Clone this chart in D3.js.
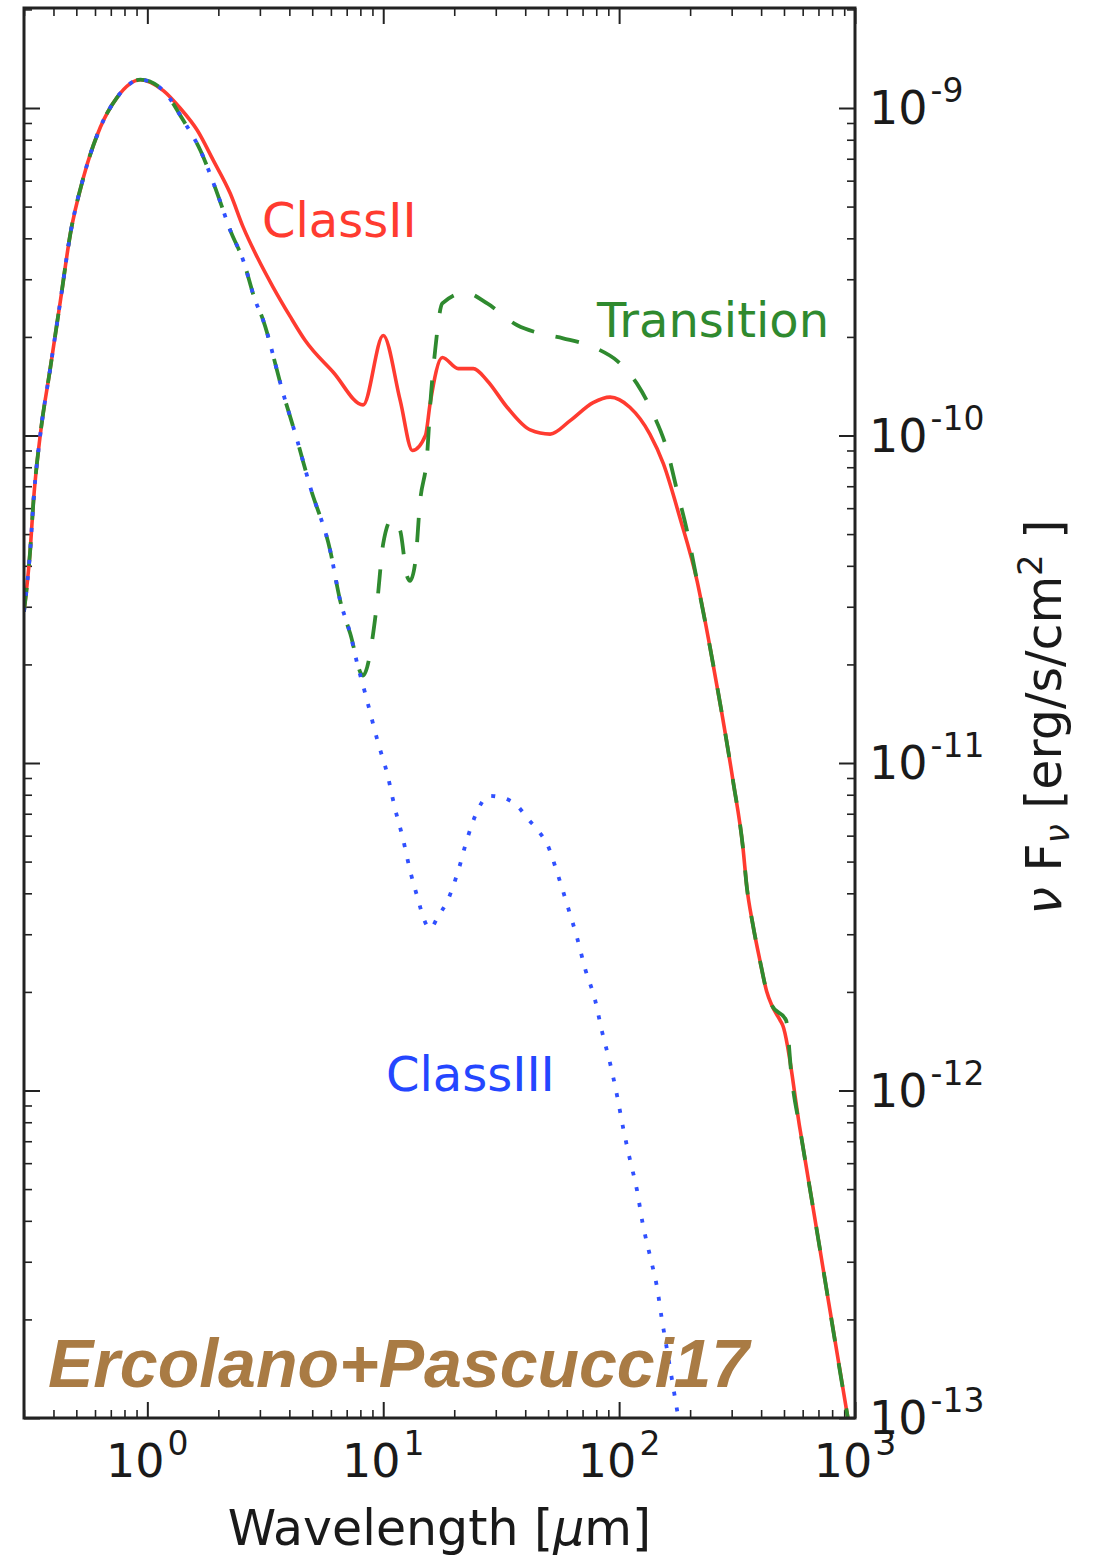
<!DOCTYPE html>
<html>
<head>
<meta charset="utf-8">
<script src="https://cdn.jsdelivr.net/npm/d3@7"></script>
<style>
  html, body { margin: 0; padding: 0; background: #fff; }
  svg { display: block; }
  text { font-family: "DejaVu Sans", sans-serif; }
</style>
</head>
<body>
<svg id="chart" width="1093" height="1562"></svg>
<script>
// ---------------- DATA (wavelength in micron, nu F_nu in erg/s/cm^2) ----------------
const classII = [
  [0.30, 2.9e-11], [0.319, 4.5e-11], [0.329, 6.3e-11], [0.352, 1.01e-10], [0.388, 1.61e-10],
  [0.428, 2.58e-10], [0.472, 4.14e-10], [0.536, 6.14e-10], [0.632, 8.73e-10], [0.746, 1.08e-9],
  [0.934, 1.22e-9], [1.169, 1.13e-9], [1.376, 1.0e-9], [1.628, 8.55e-10], [1.904, 6.92e-10],
  [2.247, 5.48e-10], [2.551, 4.32e-10], [2.925, 3.50e-10], [3.42, 2.83e-10], [4.03, 2.31e-10],
  [4.67, 1.95e-10], [6.14, 1.56e-10], [8.22, 1.24e-10],
  [10.0, 2.02e-10], [11.8, 1.28e-10], [13.3, 9.0e-11], [15.1, 1.0e-10], [15.8, 1.25e-10],
  [17.8, 1.73e-10], [20.8, 1.60e-10], [24.1, 1.60e-10], [27.6, 1.47e-10], [33.5, 1.22e-10],
  [42.0, 1.04e-10], [51.0, 1.01e-10], [62.0, 1.11e-10], [77.6, 1.26e-10], [91.6, 1.31e-10],
  [111, 1.22e-10], [135, 1.01e-10], [154, 8.2e-11], [181, 5.61e-11], [214, 3.60e-11],
  [243, 2.25e-11], [273, 1.41e-11], [304, 8.83e-12], [335, 5.51e-12], [348, 4.17e-12],
  [369, 3.21e-12], [396, 2.48e-12], [422, 2.01e-12], [444, 1.82e-12], [481, 1.64e-12],
  [494, 1.58e-12], [585, 7.6e-13], [700, 3.49e-13], [922, 1.05e-13], [1000, 7.5e-14]
];

const transition = [
  [0.30, 2.9e-11], [0.319, 4.5e-11], [0.329, 6.3e-11], [0.352, 1.01e-10], [0.388, 1.61e-10],
  [0.428, 2.58e-10], [0.472, 4.14e-10], [0.536, 6.14e-10], [0.632, 8.73e-10], [0.746, 1.08e-9],
  [0.934, 1.22e-9], [1.169, 1.13e-9], [1.42, 9.17e-10], [1.677, 7.43e-10], [1.98, 5.48e-10],
  [2.247, 4.23e-10], [2.551, 3.42e-10], [2.87, 2.58e-10], [3.07, 2.29e-10], [3.77, 1.34e-10],
  [4.32, 9.66e-11], [4.91, 6.94e-11],
  [5.96, 4.45e-11], [6.57, 3.13e-11], [7.25, 2.48e-11], [8.2, 1.85e-11], [9.44, 3.13e-11],
  [10.0, 4.68e-11], [10.9, 5.57e-11], [11.8, 5.12e-11], [12.6, 3.73e-11], [13.0, 3.60e-11],
  [13.7, 4.15e-11], [14.3, 6.19e-11], [15.4, 9.0e-11], [15.8, 1.22e-10], [16.6, 1.82e-10],
  [17.8, 2.53e-10], [22.3, 2.73e-10], [27.6, 2.53e-10], [37.0, 2.17e-10], [46.2, 2.05e-10],
  [57.9, 1.98e-10], [80.7, 1.84e-10], [98.1, 1.69e-10], [119, 1.44e-10], [139, 1.17e-10],
  [160, 9.0e-11], [176, 6.79e-11], [194, 5.12e-11], [214, 3.60e-11], [243, 2.25e-11],
  [273, 1.41e-11], [304, 8.83e-12], [335, 5.51e-12], [348, 4.17e-12], [369, 3.21e-12],
  [396, 2.48e-12], [422, 2.01e-12], [444, 1.82e-12], [510, 1.64e-12], [540, 1.08e-12],
  [585, 7.6e-13], [700, 3.49e-13], [922, 1.05e-13], [1000, 7.5e-14]
];

const classIII = [
  [0.30, 2.9e-11], [0.319, 4.5e-11], [0.329, 6.3e-11], [0.352, 1.01e-10], [0.388, 1.61e-10],
  [0.428, 2.58e-10], [0.472, 4.14e-10], [0.536, 6.14e-10], [0.632, 8.73e-10], [0.746, 1.08e-9],
  [0.934, 1.22e-9], [1.169, 1.13e-9], [1.42, 9.17e-10], [1.677, 7.43e-10], [1.98, 5.48e-10],
  [2.247, 4.23e-10], [2.551, 3.42e-10], [2.87, 2.58e-10], [3.07, 2.29e-10], [3.77, 1.34e-10],
  [4.32, 9.66e-11], [4.91, 6.94e-11],
  [5.96, 4.45e-11], [6.57, 3.13e-11], [7.25, 2.48e-11], [7.76, 2.01e-11], [8.39, 1.63e-11],
  [9.52, 1.15e-11], [10.4, 9.27e-12], [11.2, 7.30e-12], [12.1, 5.91e-12], [13.0, 4.69e-12],
  [14.1, 3.80e-12], [14.8, 3.37e-12], [15.8, 3.12e-12], [17.1, 3.41e-12], [18.7, 3.79e-12],
  [20.8, 4.69e-12], [22.7, 5.87e-12], [25.3, 7.24e-12], [27.9, 7.94e-12], [32.2, 7.83e-12],
  [37.0, 7.40e-12], [41.1, 6.75e-12], [45.4, 6.21e-12], [49.5, 5.66e-12], [55.2, 4.52e-12],
  [60.8, 3.61e-12], [66.4, 2.92e-12], [71.8, 2.35e-12], [79.1, 1.89e-12], [84.7, 1.51e-12],
  [91.6, 1.21e-12], [98.1, 9.62e-13], [104, 7.69e-13], [111, 6.18e-13], [119, 4.97e-13],
  [126, 3.91e-13], [135, 3.14e-13], [145, 2.49e-13], [152, 1.99e-13], [160, 1.60e-13],
  [173, 1.14e-13], [181, 9.4e-14]
];

const xDomain = [0.3, 1000];
const yDomain = [1e-13, 2.02e-9];
const xMajorTicks = [1, 10, 100, 1000];
const xTickExponents = ["0", "1", "2", "3"];
const yMajorTicks = [1e-13, 1e-12, 1e-11, 1e-10, 1e-9];
const yTickExponents = ["-13", "-12", "-11", "-10", "-9"];

const seriesNames = ["ClassII", "Transition", "ClassIII"];
const creditText = "Ercolano+Pascucci17";

// ---------------- LAYOUT ----------------
const svg = d3.select("#chart");
const L = 24, R = 855, T = 8, B = 1418;

const x = d3.scaleLog().domain(xDomain).range([L, R]);
const y = d3.scaleLog().domain(yDomain).range([B, T]);

svg.append("rect").attr("width", 1093).attr("height", 1562).attr("fill", "#fff");

svg.append("defs").append("clipPath").attr("id", "plotclip")
  .append("rect").attr("x", L).attr("y", T).attr("width", R - L).attr("height", B - T);

const isMajor = v => Math.abs(Math.log10(v) - Math.round(Math.log10(v))) < 1e-6;
const xMinor = x.ticks().filter(v => !isMajor(v));
const yMinor = y.ticks().filter(v => !isMajor(v));

const tickColor = "#222";
function styleAxis(g, w) {
  g.select(".domain").remove();
  g.selectAll(".tick line").attr("stroke", tickColor).attr("stroke-width", w);
  g.selectAll(".tick text").remove();
}
const MAJ = 16, MIN = 8;
// bottom
svg.append("g").attr("transform", `translate(0,${B})`)
  .call(d3.axisBottom(x).tickValues(xMajorTicks).tickSize(-MAJ).tickFormat(""))
  .call(g => styleAxis(g, 2));
svg.append("g").attr("transform", `translate(0,${B})`)
  .call(d3.axisBottom(x).tickValues(xMinor).tickSize(-MIN).tickFormat(""))
  .call(g => styleAxis(g, 1.6));
// top
svg.append("g").attr("transform", `translate(0,${T})`)
  .call(d3.axisTop(x).tickValues(xMajorTicks).tickSize(-MAJ).tickFormat(""))
  .call(g => styleAxis(g, 2));
svg.append("g").attr("transform", `translate(0,${T})`)
  .call(d3.axisTop(x).tickValues(xMinor).tickSize(-MIN).tickFormat(""))
  .call(g => styleAxis(g, 1.6));
// left
svg.append("g").attr("transform", `translate(${L},0)`)
  .call(d3.axisLeft(y).tickValues(yMajorTicks).tickSize(-MAJ).tickFormat(""))
  .call(g => styleAxis(g, 2));
svg.append("g").attr("transform", `translate(${L},0)`)
  .call(d3.axisLeft(y).tickValues(yMinor).tickSize(-MIN).tickFormat(""))
  .call(g => styleAxis(g, 1.6));
// right
svg.append("g").attr("transform", `translate(${R},0)`)
  .call(d3.axisRight(y).tickValues(yMajorTicks).tickSize(-MAJ).tickFormat(""))
  .call(g => styleAxis(g, 2));
svg.append("g").attr("transform", `translate(${R},0)`)
  .call(d3.axisRight(y).tickValues(yMinor).tickSize(-MIN).tickFormat(""))
  .call(g => styleAxis(g, 1.6));

// ---------------- CURVES ----------------
const line = d3.line().x(d => x(d[0])).y(d => y(d[1])).curve(d3.curveMonotoneX);
const plot = svg.append("g").attr("clip-path", "url(#plotclip)");

plot.append("path").datum(classII).attr("d", line)
  .attr("fill", "none").attr("stroke", "#ff3b30").attr("stroke-width", 3.6)
  .attr("stroke-linejoin", "round");
plot.append("path").datum(transition).attr("d", line)
  .attr("fill", "none").attr("stroke", "#2f8a2f").attr("stroke-width", 3.8)
  .attr("stroke-dasharray", "24,22");
plot.append("path").datum(classIII).attr("d", line)
  .attr("fill", "none").attr("stroke", "#3050ff").attr("stroke-width", 3.8)
  .attr("stroke-dasharray", "4,12");

// frame
svg.append("rect").attr("x", L).attr("y", T).attr("width", R - L).attr("height", B - T)
  .attr("fill", "none").attr("stroke", "#222").attr("stroke-width", 3);

// ---------------- TICK LABELS ----------------
const xl = svg.append("g").attr("fill", "#1a1a1a");
xMajorTicks.forEach((v, i) => {
  const t = xl.append("text").attr("x", x(v)).attr("y", 1477)
    .attr("text-anchor", "middle").attr("font-size", 46);
  t.append("tspan").text("10");
  t.append("tspan").attr("dx", 3).attr("dy", -22).attr("font-size", 33).text(xTickExponents[i]);
});
const yl = svg.append("g").attr("fill", "#1a1a1a");
yMajorTicks.forEach((v, i) => {
  const t = yl.append("text").attr("x", 869).attr("y", y(v) + 16)
    .attr("text-anchor", "start").attr("font-size", 46);
  t.append("tspan").text("10");
  t.append("tspan").attr("dx", 3).attr("dy", -22).attr("font-size", 33).text(yTickExponents[i]);
});

// ---------------- AXIS TITLES ----------------
const xt = svg.append("text").attr("x", (L + R) / 2).attr("y", 1545)
  .attr("text-anchor", "middle").attr("font-size", 49).attr("fill", "#1a1a1a");
xt.append("tspan").text("Wavelength [");
xt.append("tspan").attr("font-style", "italic").text("μ");
xt.append("tspan").text("m]");

const yt = svg.append("text").attr("transform", "translate(1061,717) rotate(-90)")
  .attr("text-anchor", "middle").attr("font-size", 49).attr("fill", "#1a1a1a");
yt.append("tspan").attr("font-style", "italic").text("ν");
yt.append("tspan").text(" F");
yt.append("tspan").attr("font-style", "italic").attr("font-size", 34).attr("dy", 8).text("ν");
yt.append("tspan").attr("dy", -8).text(" [erg/s/cm");
yt.append("tspan").attr("font-size", 34).attr("dy", -19).text("2");
yt.append("tspan").attr("dy", 19).text(" ]");

// ---------------- SERIES LABELS ----------------
svg.append("text").attr("x", 262).attr("y", 237).attr("font-size", 48)
  .attr("fill", "#ff3b30").text(seriesNames[0]);
svg.append("text").attr("x", 597).attr("y", 337).attr("font-size", 48)
  .attr("fill", "#2f8a2f").text(seriesNames[1]);
svg.append("text").attr("x", 386).attr("y", 1091).attr("font-size", 48)
  .attr("fill", "#2446ff").text(seriesNames[2]);

svg.append("text").attr("x", 48).attr("y", 1387)
  .style("font-family", "'Liberation Sans', Arial, sans-serif")
  .attr("font-size", 68).attr("font-weight", "bold").attr("font-style", "italic")
  .attr("fill", "#a97b44").text(creditText);
</script>
</body>
</html>
